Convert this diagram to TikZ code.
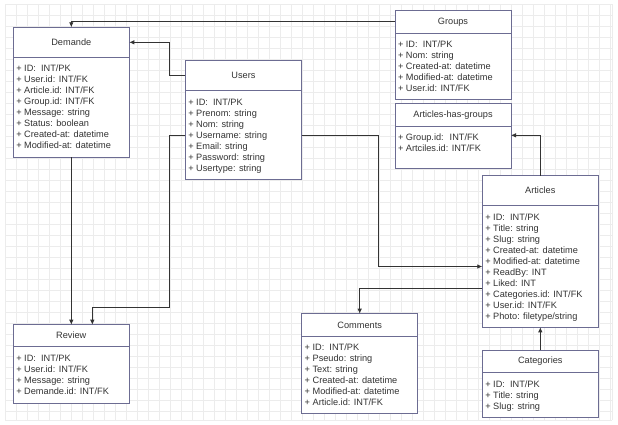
\documentclass[tikz,border=0pt]{standalone}
\usepackage{fontspec}
\setmainfont{Liberation Sans}
\usetikzlibrary{calc,arrows.meta}

\definecolor{boxedge}{HTML}{6C6C92}
\definecolor{ink}{HTML}{333333}
\definecolor{gridc}{HTML}{ECECEC}

\tikzset{
  ebox/.style={draw=boxedge, line width=1pt, fill=white, inner sep=0pt, outer sep=0pt},
  ehead/.style={inner sep=0pt, outer sep=0pt, text=ink, font=\fontsize{9.2}{11}\selectfont},
  eline/.style={draw=boxedge, line width=1pt},
  erow/.style={anchor=west, inner sep=0pt, outer sep=0pt, text height=6.6pt, text depth=0pt,
               text=ink, font=\fontsize{9.2}{11}\selectfont},
  conn/.style={draw=ink, line width=0.8pt, -{Latex[length=5pt,width=4.5pt]}},
  gridline/.style={draw=gridc, line width=0.7pt},
}

% name, left, top, width, height, header height, title, rows
\newcommand\entity[8]{%
  \node[ebox, minimum width=#4pt, minimum height=#5pt, anchor=north west] (#1) at (#2,#3) {};
  \node[ehead, minimum width=#4pt, minimum height=#6pt, anchor=north west] (#1-h) at (#2,#3) {#7};
  \draw[eline] (#1-h.south west) -- (#1-h.south east);
  \foreach \r [count=\i] in {#8}
    \node[erow] (#1-\i) at ($(#1-h.south west)+(3,{11.3+11*(\i-1)})$) {\r};
}

\begin{document}
\begin{tikzpicture}[x=1pt,y=-1pt]
\useasboundingbox (0,0) rectangle (618,424);
\fill[white] (0,0) rectangle (618,424);

% background grid
\foreach \k in {0,...,55} \draw[gridline] ({5+11*\k},4) -- ({5+11*\k},420);
\foreach \k in {0,...,37} \draw[gridline] (5,{4+11*\k}) -- (612,{4+11*\k});
\draw[gridline] (5,420) -- (612,420);
\draw[gridline] (612,4) -- (612,420);

% tables
\entity{demande}{13.3}{27.3}{116}{130}{30}{Demande}{%
  + ID:~ INT/PK, + User.id: INT/FK, + Article.id: INT/FK, + Group.id: INT/FK,
  + Message: string, + Status: boolean, + Created-at: datetime, + Modified-at: datetime}
\entity{users}{185.3}{60.7}{116.4}{118.6}{30}{Users}{%
  + ID:~ INT/PK, + Prenom: string, + Nom: string, + Username: string,
  + Email: string, + Password: string, + Usertype: string}
\entity{groups}{395}{10.7}{116}{88.6}{22.3}{Groups}{%
  + ID:~ INT/PK, + Nom: string, + Created-at: datetime, + Modified-at: datetime, + User.id: INT/FK}
\entity{ahg}{395}{103.3}{116}{65}{23}{Articles-has-groups}{%
  + Group.id:~ INT/FK, + Artciles.id: INT/FK}
\entity{articles}{482.3}{175.7}{116}{151.6}{30}{Articles}{%
  + ID:~ INT/PK, + Title: string, + Slug: string, + Created-at: datetime,
  + Modified-at: datetime, + ReadBy: INT, + Liked: INT, + Categories.id: INT/FK,
  + User.id: INT/FK, + Photo: filetype/string}
\entity{review}{13.3}{324.7}{116}{78.3}{22}{Review}{%
  + ID:~ INT/PK, + User.id: INT/FK, + Message: string, + Demande.id: INT/FK}
\entity{comments}{301.7}{313.7}{116}{100}{22.3}{Comments}{%
  + ID:~ INT/PK, + Pseudo: string, + Text: string, + Created-at: datetime,
  + Modified-at: datetime, + Article.id: INT/FK}
\entity{categories}{482.3}{350.3}{116}{66.7}{22.4}{Categories}{%
  + ID:~ INT/PK, + Title: string, + Slug: string}

% connector end points
\coordinate (rv-in) at ($(review.north)+(21,0)$);
\coordinate (ar-in) at ($(articles.west |- articles-5.west)+(0,5.5)$);
\coordinate (ar-out) at ($(articles.west |- articles-7.west)+(0,5.5)$);
\coordinate (ahg-in) at ($(ahg-h.south east)+(0,9)$);

% relations
\draw[conn] (groups-h.west) -| (demande.north);
\draw[conn] (users-h.west) -- ++(-15.6,0) |- (demande-h.east);
\draw[conn] (demande.south) -- (review.north);
\draw[conn] (users.west |- users-4.west) -- ++(-15.6,0) |- ($(rv-in)+(0,-17)$) -- (rv-in);
\draw[conn] (users.east |- users-4.west) -- ++(77,0) |- (ar-in);
\draw[conn] (ar-out) -| (comments.north);
\draw[conn] (articles.north) |- (ahg-in);
\draw[conn] (categories.north) -- (articles.south);
\end{tikzpicture}
\end{document}
